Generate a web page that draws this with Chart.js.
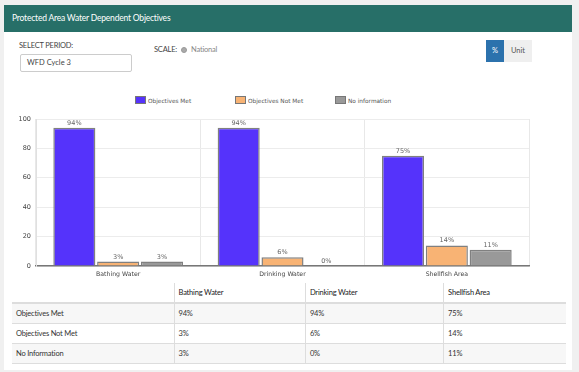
<!DOCTYPE html>
<html>
<head>
<meta charset="utf-8">
<script src="https://cdn.jsdelivr.net/npm/chart.js@4"></script>
<style>
  body { margin: 0; background: #f0f0f0; font-family: Lato, "Open Sans", sans-serif; width: 579px; height: 372px; overflow: hidden; position: relative; }
  .panel { position: absolute; left: 4px; top: 5px; width: 568px; height: 365px; background: #fff; }
  .header { position: absolute; left: 4px; top: 5px; width: 568px; height: 27px; background: #276f68; color: #fff; font-size: 8.5px; line-height: 27px; padding-left: 8px; box-sizing: border-box; letter-spacing: -0.2px; }
  .lbl { position: absolute; font-size: 7.5px; color: #444; letter-spacing: -0.2px; }
  .input { position: absolute; left: 20px; top: 54px; width: 112px; height: 18px; border: 1px solid #ccc; border-radius: 2px; box-sizing: border-box; font-size: 7.5px; line-height: 16px; padding-left: 6px; color: #444; }
  .radio { position: absolute; left: 181px; top: 47px; width: 4px; height: 4px; border-radius: 50%; border: 1px solid #999; background: #aaa; }
  .btn { position: absolute; top: 40px; height: 22px; font-size: 7.5px; line-height: 22px; text-align: center; }
  .legend { position: absolute; top: 96px; left: 135px; font-family: "DejaVu Sans", Verdana, sans-serif; font-size: 5.8px; color: #555; }
  .legend span.item { position: absolute; white-space: nowrap; }
  .legend span.box { display: inline-block; width: 9px; height: 6px; border: 1px solid #777; vertical-align: -1px; margin-right: 2px; }
  #wrap { position: absolute; left: 10px; top: 108px; width: 530px; height: 174px; }
  table { position: absolute; left: 12px; top: 283px; width: 554px; border-collapse: collapse; font-size: 7.5px; color: #333; }
  td, th { border: 1px solid #ddd; height: 19px; padding: 0 0 0 4px; text-align: left; font-weight: normal; letter-spacing: -0.2px; }
  th { border-top: none; border-bottom: 2px solid #ddd; color: #222; height: 19px; }
  tr td:first-child, tr th:first-child { border-left: none; }
  tr td:last-child, tr th:last-child { border-right: none; }
  tbody tr:nth-child(odd) { background: #f7f7f7; }
</style>
</head>
<body>
<div class="panel"></div>
<div class="header">Protected Area Water Dependent Objectives</div>
<div class="lbl" style="left:19px; top:41px;">SELECT PERIOD:</div>
<div class="input">WFD Cycle 3</div>
<div class="lbl" style="left:154px; top:45px;">SCALE:</div>
<div class="radio"></div>
<div class="lbl" style="left:191px; top:45px; color:#888;">National</div>
<div class="btn" style="left:486px; width:18px; background:#2c72ad; color:#fff;">%</div>
<div class="btn" style="left:504px; width:28px; background:#efefef; color:#555;">Unit</div>
<div class="legend" id="legend"></div>
<div id="wrap"><canvas id="myChart"></canvas></div>
<table id="tbl"></table>
<script>
// chart data
const categories = ['Bathing Water', 'Drinking Water', 'Shellfish Area'];
const seriesNames = ['Objectives Met', 'Objectives Not Met', 'No information'];
const tableNames = ['Objectives Met', 'Objectives Not Met', 'No Information'];
const objectivesMet = [94, 94, 75];
const objectivesNotMet = [3, 6, 14];
const noInformation = [3, 0, 11];
const yTicks = [0, 20, 40, 60, 80, 100];

const colors = ['#5533fb', '#f8b374', '#999999'];
const seriesValues = [objectivesMet, objectivesNotMet, noInformation];

// html legend, fixed spacing like the original page
const legend = document.getElementById('legend');
seriesNames.forEach((name, i) => {
  const item = document.createElement('span');
  item.className = 'item';
  item.style.left = (i * 100) + 'px';
  item.innerHTML = '<span class="box" style="background:' + colors[i] + '"></span>' + name;
  legend.appendChild(item);
});

// table under the chart
let html = '<thead><tr><th></th>' + categories.map(c => '<th>' + c + '</th>').join('') + '</tr></thead><tbody>';
seriesValues.forEach((vals, i) => {
  html += '<tr><td>' + tableNames[i] + '</td>' + vals.map(v => '<td>' + v + '%</td>').join('') + '</tr>';
});
html += '</tbody>';
document.getElementById('tbl').innerHTML = html;
const cols = [163, 131, 138, 122];
document.querySelectorAll('#tbl th').forEach((th, i) => { th.style.width = cols[i] + 'px'; });

// draws the "94%" labels on top of each bar
const valueLabels = {
  id: 'valueLabels',
  afterDatasetsDraw(chart) {
    const ctx = chart.ctx;
    ctx.save();
    ctx.font = '6.5px "DejaVu Sans", Verdana, sans-serif';
    ctx.fillStyle = '#666';
    ctx.textAlign = 'center';
    ctx.textBaseline = 'bottom';
    chart.data.datasets.forEach((ds, i) => {
      chart.getDatasetMeta(i).data.forEach((bar, j) => {
        ctx.fillText(ds.data[j] + '%', bar.x, bar.y - 1.5);
      });
    });
    ctx.restore();
  }
};

const config = {
  type: 'bar',
  data: {
    labels: categories,
    datasets: seriesValues.map((vals, i) => ({
      label: seriesNames[i],
      data: vals,
      backgroundColor: colors[i],
      borderColor: '#808080',
      borderWidth: 1.5,
      barPercentage: 0.96,
      categoryPercentage: 0.8
    }))
  },
  options: {
    responsive: true,
    maintainAspectRatio: false,
    animation: false,
    layout: { padding: { top: 11, right: 11, left: 0, bottom: 0 } },
    plugins: { legend: { display: false }, tooltip: { enabled: false } },
    scales: {
      x: {
        grid: { color: '#e8e8e8', offset: true, drawTicks: false },
        border: { color: '#777', width: 1.5 },
        ticks: { color: '#444', font: { family: '"DejaVu Sans", Verdana, sans-serif', size: 6.2 }, padding: 5 },
        afterFit(scale) { scale.height = 16; }
      },
      y: {
        min: 0,
        max: 100,
        afterBuildTicks(scale) { scale.ticks = yTicks.map(v => ({ value: v })); },
        grid: { color: '#ececec', drawTicks: false },
        border: { color: '#e0e0e0' },
        ticks: { color: '#444', font: { family: '"DejaVu Sans", Verdana, sans-serif', size: 6.5 }, padding: 5 },
        afterFit(scale) { scale.width = 26; }
      }
    }
  },
  plugins: [valueLabels]
};

new Chart(document.getElementById('myChart'), config);
</script>
</body>
</html>
